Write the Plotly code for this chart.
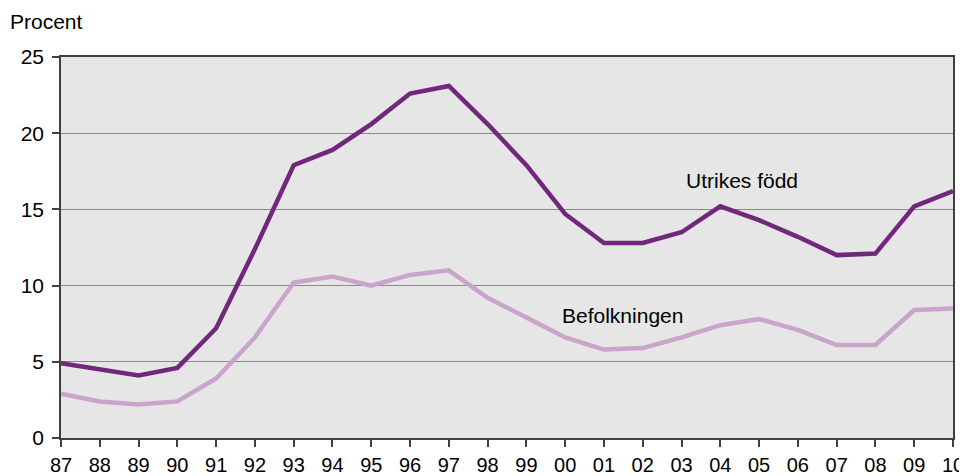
import plotly.graph_objects as go

years = ["87", "88", "89", "90", "91", "92", "93", "94", "95", "96", "97", "98",
         "99", "00", "01", "02", "03", "04", "05", "06", "07", "08", "09", "10"]
utrikes_fodd = [4.9, 4.5, 4.1, 4.6, 7.2, 12.4, 17.9, 18.9, 20.6, 22.6, 23.1, 20.6,
                17.9, 14.7, 12.8, 12.8, 13.5, 15.2, 14.3, 13.2, 12.0, 12.1, 15.2, 16.2]
befolkningen = [2.9, 2.4, 2.2, 2.4, 3.9, 6.6, 10.2, 10.6, 10.0, 10.7, 11.0, 9.2,
                7.9, 6.6, 5.8, 5.9, 6.6, 7.4, 7.8, 7.1, 6.1, 6.1, 8.4, 8.5]
y_ticks = [0, 5, 10, 15, 20, 25]

FONT = "Liberation Sans, Arial, sans-serif"

fig = go.Figure()
fig.add_trace(go.Scatter(x=years, y=befolkningen, mode="lines", name="Befolkningen",
                         line=dict(color="#C9A4CB", width=4.5)))
fig.add_trace(go.Scatter(x=years, y=utrikes_fodd, mode="lines", name="Utrikes född",
                         line=dict(color="#71277B", width=4.5)))

# page body has an 8px margin, so the figure is offset by (8, 8)
fig.update_layout(
    width=959, height=468,
    margin=dict(l=53, r=14, t=49, b=38, autoexpand=False),
    paper_bgcolor="white",
    plot_bgcolor="#E6E6E6",
    showlegend=False,
    font=dict(family=FONT, size=21, color="black"),
    xaxis=dict(type="category", range=[0, len(years) - 1], automargin=False,
               showgrid=False, zeroline=False,
               showline=True, linecolor="#404040", linewidth=2, mirror=True,
               ticks="outside", ticklen=7, tickcolor="#404040", tickwidth=1.5,
               tickfont=dict(size=20), ticklabelstandoff=1),
    yaxis=dict(range=[0, 25], tickvals=y_ticks, showgrid=True, automargin=False,
               gridcolor="#8A8A8A", gridwidth=1, zeroline=False,
               showline=True, linecolor="#404040", linewidth=1.5, mirror=True,
               ticks="outside", ticklen=7, tickcolor="#404040", tickwidth=1.5,
               tickfont=dict(size=21), ticklabelstandoff=4),
    annotations=[
        dict(text="Procent", xref="paper", yref="paper", x=-0.059, y=1.092,
             xanchor="left", yanchor="middle", showarrow=False, font=dict(size=21)),
        dict(text="Utrikes född", xref="x", yref="y", x=17.56, y=16.9,
             xanchor="center", yanchor="middle", showarrow=False, font=dict(size=21)),
        dict(text="Befolkningen", xref="x", yref="y", x=14.47, y=8.05,
             xanchor="center", yanchor="middle", showarrow=False, font=dict(size=21)),
    ],
)

fig.write_html("out.html")
